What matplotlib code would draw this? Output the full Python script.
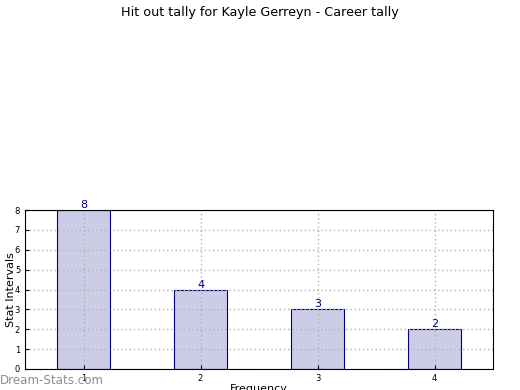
import matplotlib
matplotlib.use("Agg")
import matplotlib.pyplot as plt

categories = [1, 2, 3, 4]
values = [8, 4, 3, 2]
yticks = [0, 1, 2, 3, 4, 5, 6, 7, 8]

fig = plt.figure(figsize=(5.2, 3.9), dpi=100)
ax = fig.add_axes([25 / 520, 21 / 390, 468 / 520, 159 / 390])

ax.bar(categories, values, width=0.45, color="#ccccE6", edgecolor="#000080",
       linewidth=0.8, zorder=2)
for x, v in zip(categories, values):
    ax.text(x, v, str(v), ha="center", va="bottom", color="#000080", fontsize=8)

ax.set_xlim(0.5, 4.5)
ax.set_ylim(0, 8)
ax.set_xticks(categories)
ax.set_yticks(yticks)
ax.tick_params(direction="in", labelsize=6, length=3)
ax.grid(True, linestyle=(0, (1, 2)), color="#b0b0b0", linewidth=1)
ax.set_axisbelow(False)
for sp in ax.spines.values():
    sp.set_zorder(3)

ax.set_xlabel("Frequency", fontsize=8, labelpad=1)
ax.set_ylabel("Stat Intervals", fontsize=8)
ax.yaxis.set_label_coords(-0.02, 0.5)

fig.suptitle("Hit out tally for Kayle Gerreyn - Career tally", fontsize=9.2, y=0.985)
fig.text(0.0, 1 - 380 / 390, "Dream-Stats.com", fontsize=8.6, color="#7a7a7a",
         va="center", ha="left", alpha=0.85)

fig.savefig("out.png", dpi=100)
